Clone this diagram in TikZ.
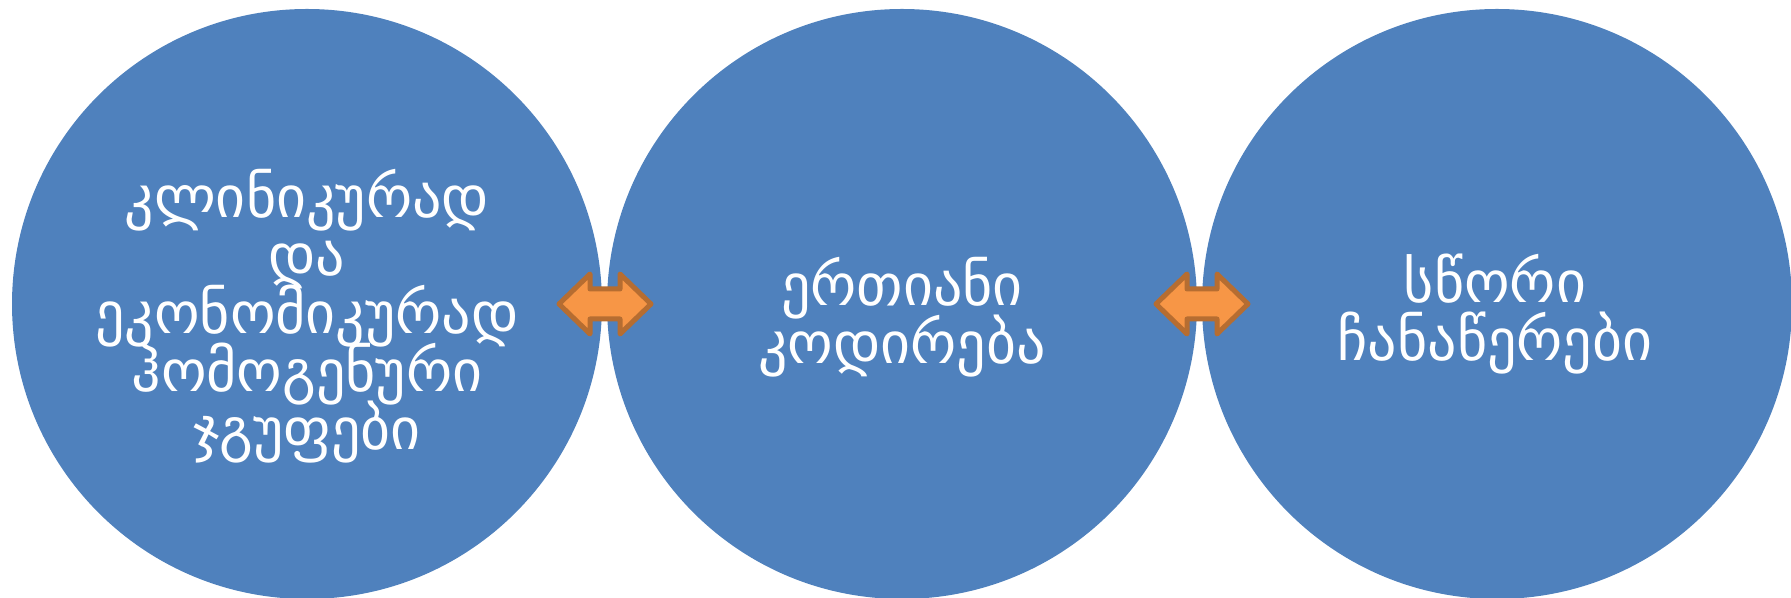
\documentclass[tikz,border=0pt]{standalone}
\usepackage{fontspec}
\newfontfamily\geofont{DejaVu Sans}
\newcommand\geotext{\geofont\fontsize{16.5}{16.5}\selectfont\lineskiplimit=-20pt\relax}
\usepackage{xcolor}
\definecolor{circblue}{HTML}{4F81BD}
\definecolor{arrfill}{HTML}{F79646}
\definecolor{arrdraw}{HTML}{B66D31}

\begin{document}
\begin{tikzpicture}[x=0.1mm,y=-0.1mm,
     bc/.style={circle,fill=circblue,minimum size=59mm,inner sep=0pt},
     tx/.style={text=white,align=center,font=\geotext},
     da/.style={fill=arrfill,draw=arrdraw,line width=0.5mm,line join=round}]
    \useasboundingbox (0,0) rectangle (1791,598);
    \node[bc] (c1) at (307,304) {};
    \node[bc] (c2) at (902,304) {};
    \node[bc] (c3) at (1497,304) {};
    \node[tx] (t1) at (307,316) {კლინიკურად\\ და\\ ეკონომიკურად\\ ჰომოგენური\\ ჯგუფები};
    \node[tx] (t2) at (902,317) {ერთიანი\\ კოდირება};
    \node[tx] (t3) at (1495,314) {სწორი\\ ჩანაწერები};
    % double arrows between the circles
    \foreach \cx in {605,1202}
      \draw[da] (\cx-46,304) -- (\cx-15,274) -- (\cx-15,289) -- (\cx+15,289) -- (\cx+15,274)
        -- (\cx+46,304) -- (\cx+15,334) -- (\cx+15,319) -- (\cx-15,319) -- (\cx-15,334) -- cycle;
  \end{tikzpicture}
\end{document}
